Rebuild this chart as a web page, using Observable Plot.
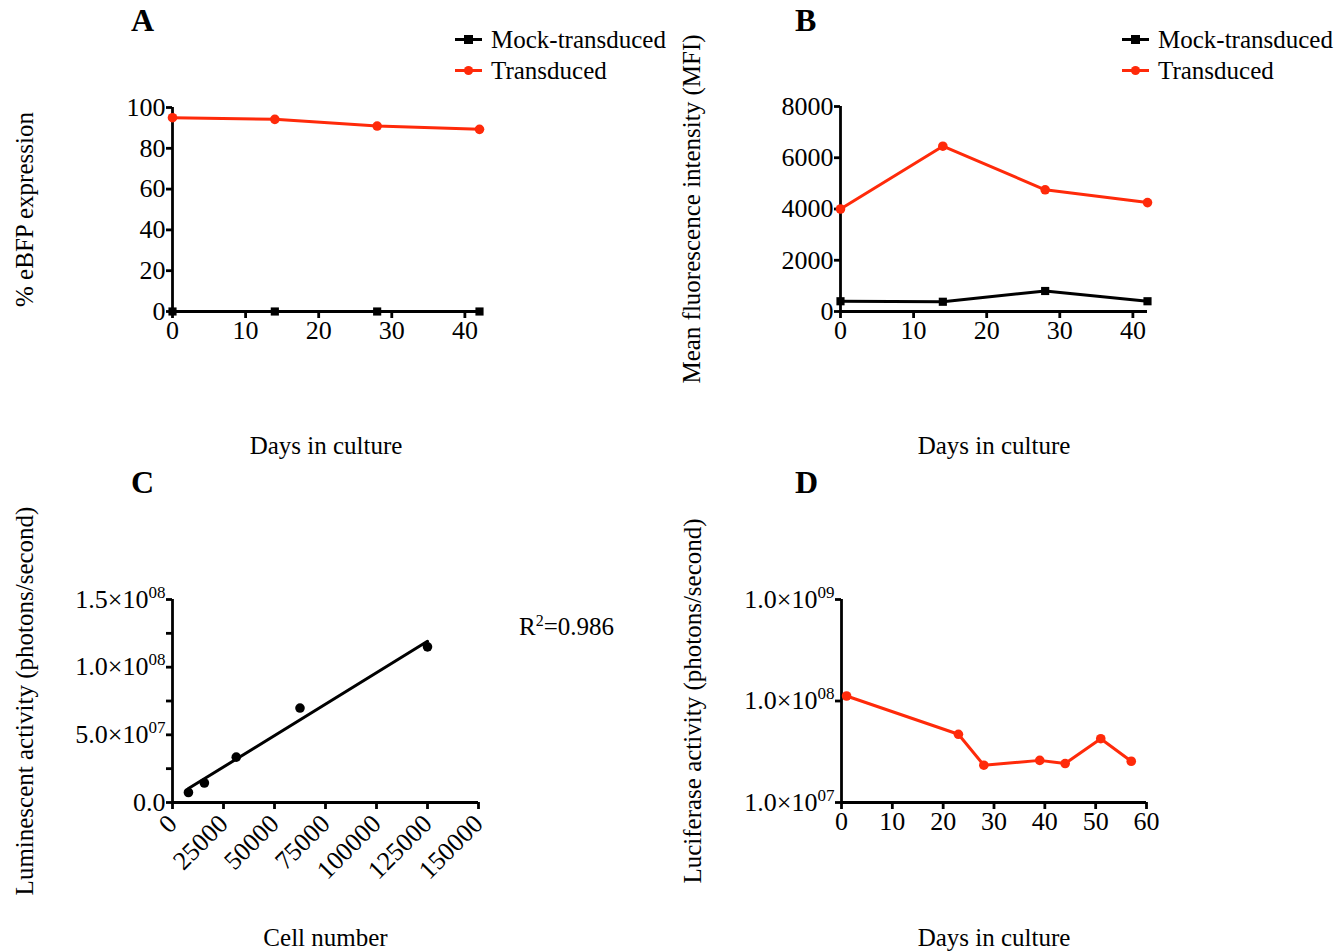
<!DOCTYPE html>
<html><head><meta charset="utf-8">
<script src="https://cdn.jsdelivr.net/npm/d3@7"></script>
<script src="https://cdn.jsdelivr.net/npm/@observablehq/plot@0.6"></script>
<style>
body{margin:0;background:#fff;}
#fig{position:relative;width:1337px;height:952px;font-family:"Liberation Serif","Times New Roman",serif;color:#000;overflow:hidden;}
.panel{position:absolute;}
.panel svg{overflow:visible;}
#fig svg text{font-family:"Liberation Serif","Times New Roman",serif !important;font-variant:normal !important;}
#fig svg g[aria-label$="tick label"] text{font-size:26px;}
.letter{position:absolute;font-weight:bold;font-size:32px;line-height:1;}
.leg{position:absolute;font-size:25px;line-height:1;display:flex;align-items:center;white-space:nowrap;}
.leg svg{margin-right:9px;}
.r2{position:absolute;font-size:25px;line-height:1;}
.r2 sup{font-size:16px;vertical-align:9px;line-height:0;}
</style></head>
<body><div id="fig"></div>
<script>
// ---- data ----
const seriesNames = ["Mock-transduced", "Transduced"];
const seriesColors = ["#000000", "#ff2a0a"];
const daysAB = [0, 14, 28, 42];
const eBFPMock = [0, 0, 0, 0];
const eBFPTransduced = [95, 94.2, 90.9, 89.3];
const mfiMock = [400, 380, 800, 400];
const mfiTransduced = [4000, 6450, 4750, 4250];
const cellNumber = [7812.5, 15625, 31250, 62500, 125000];
const luminescence = [7.4e6, 1.44e7, 3.35e7, 6.98e7, 1.15e8];
const daysD = [1, 23, 28, 39, 44, 51, 57];
const luciferase = [1.12e8, 4.7e7, 2.33e7, 2.6e7, 2.42e7, 4.25e7, 2.55e7];

const ticksDaysAB = [0, 10, 20, 30, 40];
const ticksEBFP = [0, 20, 40, 60, 80, 100];
const ticksMFI = [0, 2000, 4000, 6000, 8000];
const ticksCell = [0, 25000, 50000, 75000, 100000, 125000, 150000];
const ticksLum = [0, 2.5e7, 5e7, 7.5e7, 1e8, 1.25e8, 1.5e8];
const labelsLum = ["0.0", "", "5.0×10^07", "", "1.0×10^08", "", "1.5×10^08"];
const ticksDaysD = [0, 10, 20, 30, 40, 50, 60];
const ticksLuc = [1e7, 1e8, 1e9];
const labelsLuc = ["1.0×10^07", "1.0×10^08", "1.0×10^09"];

const rows = (xs, ys, s) => xs.map((x, i) => ({x, y: ys[i], s}));
const dataA = [...rows(daysAB, eBFPMock, seriesNames[0]), ...rows(daysAB, eBFPTransduced, seriesNames[1])];
const dataB = [...rows(daysAB, mfiMock, seriesNames[0]), ...rows(daysAB, mfiTransduced, seriesNames[1])];
const dataC = rows(cellNumber, luminescence, "C");
const dataD = rows(daysD, luciferase, seriesNames[1]);

const FONT = 25, AX = 2.8, LW = 3;
const fig = document.getElementById("fig");

function place(el, left, top) {
  const d = document.createElement("div");
  d.className = "panel"; d.style.left = left + "px"; d.style.top = top + "px";
  d.appendChild(el); fig.appendChild(d);
}
function supify(svg) {
  svg.querySelectorAll("text").forEach(t => {
    if (t.children.length === 0 && t.textContent.includes("^")) {
      const [base, exp] = t.textContent.split("^");
      t.textContent = base;
      const ts = document.createElementNS("http://www.w3.org/2000/svg", "tspan");
      ts.setAttribute("dy", "-10");
      ts.setAttribute("font-size", "17");
      ts.style.fontSize = "17px";
      ts.textContent = exp;
      t.appendChild(ts);
    }
  });
}
const baseStyle = {fontFamily: "'Liberation Serif', 'Times New Roman', serif", fontSize: FONT + "px", color: "#000", background: "transparent", overflow: "visible"};
const colorScale = {domain: seriesNames, range: seriesColors};

function seriesMarks(data) {
  return [
    Plot.line(data, {x: "x", y: "y", z: "s", stroke: "s", strokeWidth: LW}),
    Plot.dot(data.filter(d => d.s === seriesNames[0]), {x: "x", y: "y", symbol: "square", r: 4.6, fill: "s", stroke: null}),
    Plot.dot(data.filter(d => d.s === seriesNames[1]), {x: "x", y: "y", symbol: "circle", r: 4.8, fill: "s", stroke: null})
  ];
}

// ---- Panel A ----
const A = Plot.plot({
  width: 668, height: 470, marginLeft: 172, marginRight: 189, marginTop: 107, marginBottom: 159,
  style: baseStyle, color: colorScale,
  x: {domain: [0, 42]}, y: {domain: [0, 100]},
  marks: [
    Plot.ruleX([0], {strokeWidth: AX}), Plot.ruleY([0], {strokeWidth: AX}),
    Plot.axisX({ticks: ticksDaysAB, tickSize: 7, strokeWidth: AX, tickPadding: 2, fontSize: FONT, label: "Days in culture", labelAnchor: "center", labelOffset: 142, labelArrow: "none"}),
    Plot.axisY({ticks: ticksEBFP, tickSize: 6, strokeWidth: AX, tickPadding: 1, fontSize: FONT, label: "% eBFP expression", labelAnchor: "center", labelOffset: 157, labelArrow: "none"}),
    ...seriesMarks(dataA)
  ]
});
place(A, 0, 0);

// ---- Panel B ----
const B = Plot.plot({
  width: 669, height: 470, marginLeft: 172, marginRight: 190, marginTop: 106, marginBottom: 159,
  style: baseStyle, color: colorScale,
  x: {domain: [0, 42]}, y: {domain: [0, 8000]},
  marks: [
    Plot.ruleX([0], {strokeWidth: AX}), Plot.ruleY([0], {strokeWidth: AX}),
    Plot.axisX({ticks: ticksDaysAB, tickSize: 7, strokeWidth: AX, tickPadding: 2, fontSize: FONT, label: "Days in culture", labelAnchor: "center", labelOffset: 142, labelArrow: "none"}),
    Plot.axisY({ticks: ticksMFI, tickSize: 6, strokeWidth: AX, tickPadding: 1, tickFormat: d => String(d), fontSize: FONT, label: "Mean fluorescence intensity (MFI)", labelAnchor: "center", labelOffset: 158, labelArrow: "none"}),
    ...seriesMarks(dataB)
  ]
});
place(B, 668, 0);

// ---- Panel C ----
const C = Plot.plot({
  width: 668, height: 482, marginLeft: 172, marginRight: 190, marginTop: 129, marginBottom: 150,
  style: baseStyle,
  x: {domain: [0, 150000]}, y: {domain: [0, 1.5e8]},
  marks: [
    Plot.ruleX([0], {strokeWidth: AX}), Plot.ruleY([0], {strokeWidth: AX}),
    Plot.axisX({ticks: ticksCell, tickSize: 7, strokeWidth: AX, tickPadding: 10, tickRotate: -45, tickFormat: d => String(d), fontSize: FONT, label: "Cell number", labelAnchor: "center", labelOffset: 143, labelArrow: "none"}),
    Plot.axisY({ticks: ticksLum, tickSize: 6, strokeWidth: AX, tickPadding: 1, tickFormat: d => labelsLum[ticksLum.indexOf(d)], fontSize: FONT, label: "Luminescent activity (photons/second)", labelAnchor: "center", labelOffset: 157, labelArrow: "none"}),
    Plot.linearRegressionY(dataC, {x: "x", y: "y", stroke: "#000", strokeWidth: LW, ci: 0}),
    Plot.dot(dataC, {x: "x", y: "y", r: 4.8, fill: "#000", stroke: null})
  ]
});
supify(C);
place(C, 0, 470);

// ---- Panel D ----
const D = Plot.plot({
  width: 669, height: 482, marginLeft: 173, marginRight: 191, marginTop: 129, marginBottom: 150,
  style: baseStyle, color: colorScale,
  x: {domain: [0, 60]}, y: {type: "log", domain: [1e7, 1e9]},
  marks: [
    Plot.ruleX([0], {strokeWidth: AX}), Plot.ruleY([1e7], {strokeWidth: AX}),
    Plot.axisX({ticks: ticksDaysD, tickSize: 7, strokeWidth: AX, tickPadding: 2, fontSize: FONT, label: "Days in culture", labelAnchor: "center", labelOffset: 143, labelArrow: "none"}),
    Plot.axisY({ticks: ticksLuc, tickSize: 6, strokeWidth: AX, tickPadding: 1, tickFormat: d => labelsLuc[ticksLuc.indexOf(d)], fontSize: FONT, label: "Luciferase activity (photons/second)", labelAnchor: "center", labelOffset: 158, labelArrow: "none"}),
    ...seriesMarks(dataD)
  ]
});
supify(D);
place(D, 668, 470);

// ---- panel letters ----
[["A", 131, 4], ["B", 795, 4], ["C", 131, 466], ["D", 795, 466]].forEach(([t, l, tp]) => {
  const d = document.createElement("div"); d.className = "letter";
  d.style.left = l + "px"; d.style.top = tp + "px"; d.textContent = t; fig.appendChild(d);
});

// ---- legends ----
function legend(left, top) {
  seriesNames.forEach((name, i) => {
    const d = document.createElement("div"); d.className = "leg";
    d.style.left = left + "px"; d.style.top = (top + i * 31) + "px";
    const sym = i === 0
      ? `<rect x="9" y="2" width="9" height="9" fill="${seriesColors[i]}"/>`
      : `<circle cx="13.5" cy="6.5" r="4.6" fill="${seriesColors[i]}"/>`;
    d.innerHTML = `<svg width="27" height="13"><line x1="0" x2="27" y1="6.5" y2="6.5" stroke="${seriesColors[i]}" stroke-width="3"/>${sym}</svg><span>${name}</span>`;
    fig.appendChild(d);
  });
}
legend(455, 27);
legend(1122, 27);

// ---- R squared ----
const r2 = document.createElement("div"); r2.className = "r2";
r2.style.left = "519px"; r2.style.top = "614px";
r2.innerHTML = "R<sup>2</sup>=0.986";
fig.appendChild(r2);
</script>
</body></html>
